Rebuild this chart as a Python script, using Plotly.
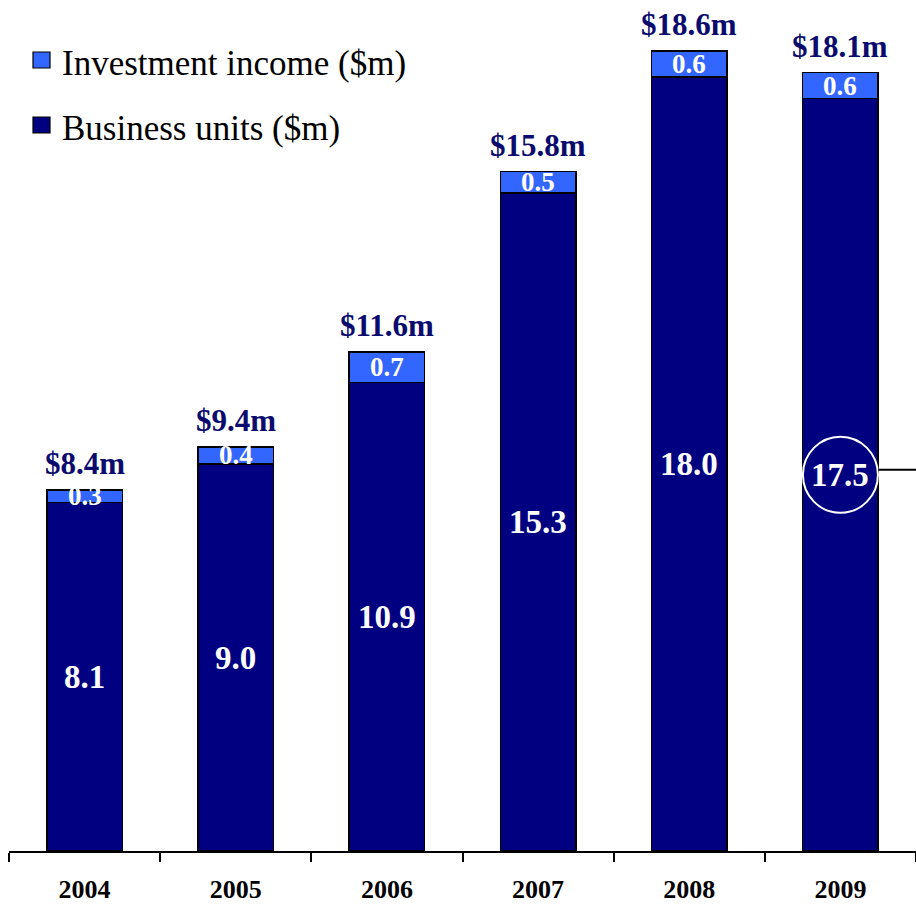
import plotly.graph_objects as go

# Profit contribution by year ($m)
years = ["2004", "2005", "2006", "2007", "2008", "2009"]
business_units = [8.1, 9.0, 10.9, 15.3, 18.0, 17.5]
investment_income = [0.3, 0.4, 0.7, 0.5, 0.6, 0.6]
totals = [8.4, 9.4, 11.6, 15.8, 18.6, 18.1]
total_labels = ["$8.4m", "$9.4m", "$11.6m", "$15.8m", "$18.6m", "$18.1m"]

W, H = 916, 906
ML, MR, MT, MB = 9, 0, 0, 55
PX_PER_UNIT = 43.0
Y_MAX = (H - MT - MB) / PX_PER_UNIT

NAVY = "#000080"
LIGHT = "#3366FF"
TITLE_NAVY = "#0B0B6E"
SERIF = "Liberation Serif, Times New Roman, serif"

fig = go.Figure()
fig.add_trace(go.Bar(
    x=years, y=business_units, name="Business units ($m)",
    marker=dict(color=NAVY, line=dict(color="black", width=1.5)),
    width=0.5, hoverinfo="skip",
))
fig.add_trace(go.Bar(
    x=years, y=investment_income, name="Investment income ($m)",
    marker=dict(color=LIGHT, line=dict(color="black", width=1.5)),
    width=0.5, hoverinfo="skip",
))

# On a category axis, annotations/shapes are positioned by category index
annotations = []
for i, (bu, inv, tot, lab) in enumerate(zip(business_units, investment_income, totals, total_labels)):
    # value inside the business-units segment
    annotations.append(dict(
        x=i, y=bu / 2, text=f"<b>{bu:.1f}</b>", showarrow=False,
        font=dict(family=SERIF, size=33, color="white"),
        xanchor="center", yanchor="middle",
    ))
    # value inside the investment-income segment
    annotations.append(dict(
        x=i, y=bu + inv / 2, text=f"<b>{inv:.1f}</b>", showarrow=False,
        font=dict(family=SERIF, size=27, color="white"),
        xanchor="center", yanchor="middle",
    ))
    # total above the stack
    annotations.append(dict(
        x=i, y=tot, text=f"<b>{lab}</b>", showarrow=False,
        font=dict(family=SERIF, size=31, color=TITLE_NAVY),
        xanchor="center", yanchor="bottom", yshift=7,
    ))


def px_to_paper_x(px):
    return (px - ML) / (W - ML - MR)


def px_to_paper_y(py):
    return (H - MB - py) / (H - MT - MB)


# Legend drawn as swatches and labels
legend_items = [("Investment income ($m)", LIGHT, 63), ("Business units ($m)", NAVY, 128)]
shapes = []
for text, color, cy in legend_items:
    shapes.append(dict(
        type="rect", xref="paper", yref="paper",
        x0=px_to_paper_x(33), x1=px_to_paper_x(50),
        y0=px_to_paper_y(cy - 3 + 8), y1=px_to_paper_y(cy - 3 - 8),
        fillcolor=color, line=dict(color="black", width=1.2),
    ))
    annotations.append(dict(
        xref="paper", yref="paper", x=px_to_paper_x(60), y=px_to_paper_y(cy),
        text=text, showarrow=False, xanchor="left", yanchor="middle",
        font=dict(family=SERIF, size=35, color="black"),
    ))

# Highlight circle around the 2009 business-units value, with a leader line
hl_idx = 5
hl_y = business_units[hl_idx] / 2
shapes.append(dict(
    type="circle", xref="x", yref="y",
    xsizemode="pixel", ysizemode="pixel",
    xanchor=hl_idx, yanchor=hl_y,
    x0=-37.5, x1=37.5, y0=-38, y1=38,
    line=dict(color="white", width=2),
))
shapes.append(dict(
    type="line", xref="x", yref="y",
    xsizemode="pixel", ysizemode="pixel",
    xanchor=hl_idx, yanchor=hl_y,
    x0=38, x1=80, y0=5, y1=5,
    line=dict(color="black", width=2),
))

fig.update_layout(
    width=W, height=H,
    margin=dict(l=ML, r=MR, t=MT, b=MB),
    barmode="stack", showlegend=False,
    plot_bgcolor="white", paper_bgcolor="white",
    annotations=annotations, shapes=shapes,
    xaxis=dict(
        type="category", range=[-0.5, 5.5],
        showline=True, linecolor="black", linewidth=1.5,
        ticks="outside", tickson="boundaries", ticklen=9,
        tickcolor="black", tickwidth=1.5,
        showgrid=False, zeroline=False,
        tickfont=dict(family=SERIF, size=26, color="black"),
        ticklabelstandoff=14,
        tickprefix="<b>", ticksuffix="</b>",
    ),
    yaxis=dict(
        range=[0, Y_MAX], visible=False, showgrid=False, zeroline=False,
    ),
)

fig.write_html("out.html")
